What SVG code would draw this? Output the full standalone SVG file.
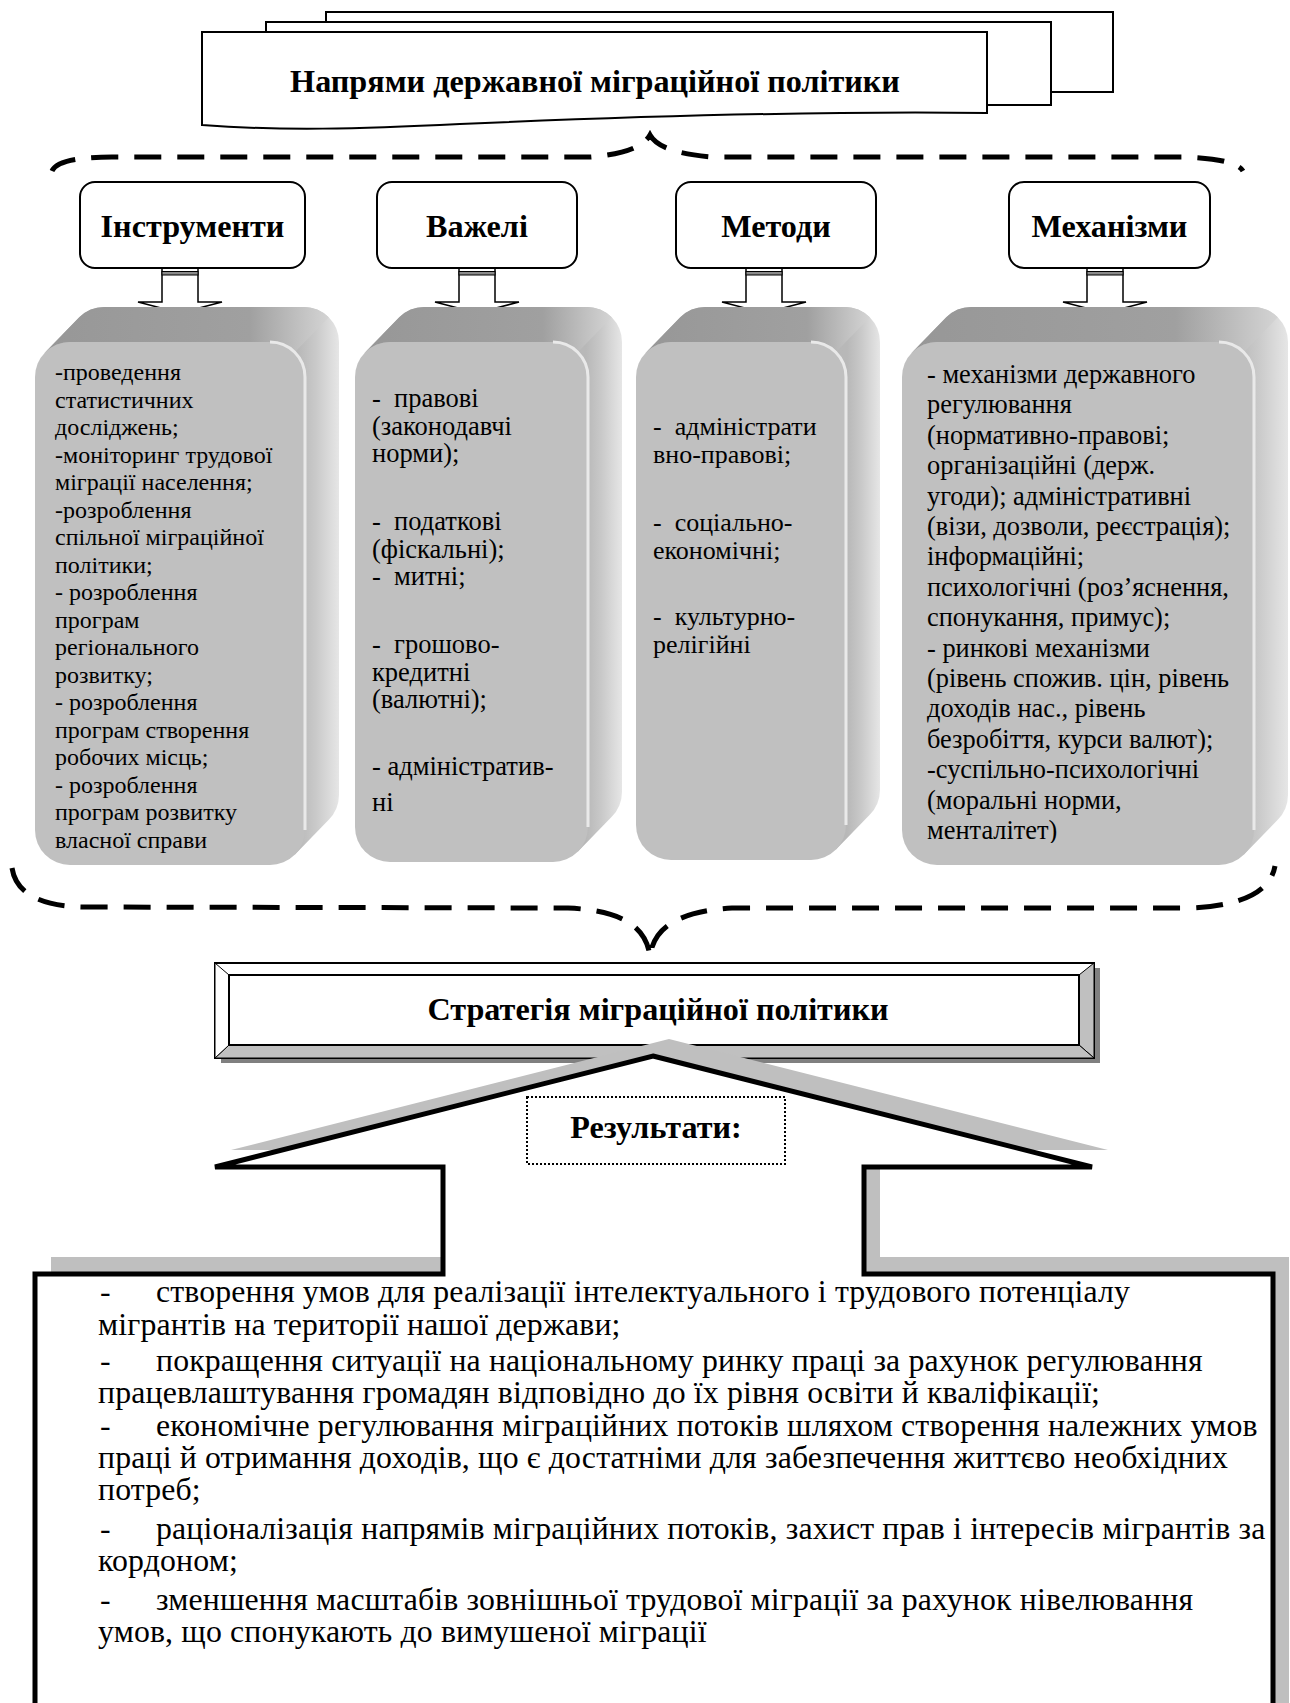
<svg xmlns="http://www.w3.org/2000/svg" width="1290" height="1703" viewBox="0 0 1290 1703">
  <defs>
    <linearGradient id="topFace" x1="0" y1="0" x2="1" y2="0">
      <stop offset="0" stop-color="#979797"/>
      <stop offset="0.72" stop-color="#a0a0a0"/>
      <stop offset="1" stop-color="#d4d4d4"/>
    </linearGradient>
    <linearGradient id="sideFace" x1="0" y1="0" x2="1" y2="0">
      <stop offset="0" stop-color="#b4b4b4"/>
      <stop offset="0.86" stop-color="#b8b8b8"/>
      <stop offset="0.92" stop-color="#c9c9c9"/>
      <stop offset="1" stop-color="#e6e6e6"/>
    </linearGradient>
    <clipPath id="clipMech">
      <rect x="900" y="340" width="360" height="503"/>
    </clipPath>
  </defs>
  <style>
    .bold { font-family: "Liberation Serif", "Times New Roman", serif; font-weight: bold; font-size: 32.2px; text-anchor: middle; fill: #000; }
    .txt { font-family: "Liberation Serif", "Times New Roman", serif; fill: #000; white-space: pre; }
    .sheet { fill: #fff; stroke: #000; stroke-width: 2; }
    .brace { fill: none; stroke: #000; stroke-width: 5; stroke-dasharray: 27 16; }
    .hdr { fill: #fff; stroke: #000; stroke-width: 2; }
    .side { fill: url(#sideFace); }
    .top { fill: url(#topFace); }
    .front { fill: #c0c0c0; }
    .edge { fill: none; stroke: #e9e9e9; stroke-width: 3; }
    .blk { fill: #fff; stroke: #000; stroke-width: 1.5; stroke-linejoin: miter; }
    .band { fill: #8a8a8a; stroke: #000; stroke-width: 1; }
  </style>

  <!-- stacked document header -->
  <g id="directions">
    <rect class="sheet" x="326" y="12" width="787" height="80"/>
    <rect class="sheet" x="266" y="22" width="785" height="83"/>
    <path class="sheet" d="M202 32 H987 V113 C820 111 620 117 460 124 C360 129 280 131 202 125 Z"/>
    <text class="bold" x="595" y="92">Напрями державної міграційної політики</text>
  </g>

  <g id="connectors">
    <!-- upper brace -->
    <path class="brace" d="M52 171 Q58 157 112 157 L590 157 Q640 153 650 135 Q660 153 712 157 L1185 157 Q1236 159 1243 171"/>
    <!-- lower brace -->
    <path class="brace" d="M12 868 Q18 906 84 907 L568 908 C612 910 646 921 650 957 C653 927 680 911 732 908 L1190 908 Q1268 905 1275 866"/>
    <!-- block arrows from headers to boxes -->
    <g>
      <path class="blk" d="M162 268 V302 H138 L180 313 L222 302 H198 V268 Z"/>
      <rect class="band" x="162" y="271.5" width="36" height="3.5"/>
    </g>
    <g>
      <path class="blk" d="M459 268 V302 H435 L477 313 L519 302 H495 V268 Z"/>
      <rect class="band" x="459" y="271.5" width="36" height="3.5"/>
    </g>
    <g>
      <path class="blk" d="M746 268 V302 H722 L764 313 L806 302 H782 V268 Z"/>
      <rect class="band" x="746" y="271.5" width="36" height="3.5"/>
    </g>
    <g>
      <path class="blk" d="M1087 268 V302 H1063 L1105 313 L1147 302 H1123 V268 Z"/>
      <rect class="band" x="1087" y="271.5" width="36" height="3.5"/>
    </g>
  </g>

  <!-- header labels -->
  <g id="hdr-instruments">
    <rect class="hdr" x="80" y="182" width="225" height="86" rx="15"/>
    <text class="bold" x="192.5" y="237">Інструменти</text>
  </g>
  <g id="hdr-levers">
    <rect class="hdr" x="377" y="182" width="200" height="86" rx="15"/>
    <text class="bold" x="477" y="237">Важелі</text>
  </g>
  <g id="hdr-methods">
    <rect class="hdr" x="676" y="182" width="200" height="86" rx="15"/>
    <text class="bold" x="776" y="237">Методи</text>
  </g>
  <g id="hdr-mechanisms">
    <rect class="hdr" x="1009" y="182" width="201" height="86" rx="15"/>
    <text class="bold" x="1109.5" y="237">Механізми</text>
  </g>

  <!-- extruded content boxes -->
  <g id="box-instruments">
    <path class="side" d="M104 307 H304 A35 35 0 0 1 339 342 V795 A35 35 0 0 1 304 830 H104 A35 35 0 0 1 69 795 V342 A35 35 0 0 1 104 307 Z M45.25 352.25 L79.25 317.25 L328.75 819.75 L294.75 854.75 Z"/>
    <path class="top" d="M45.25 352.25 L79.25 317.25 A35 35 0 0 1 104 307 L304 307 A35 35 0 0 1 328.75 317.25 L294.75 352.25 A35 35 0 0 0 270 342 L70 342 A35 35 0 0 0 45.25 352.25 Z"/>
    <rect class="front" x="35" y="342" width="270" height="523" rx="35"/>
    <path class="edge" d="M270 342 A35 35 0 0 1 305 377 V830"/>
    <text class="txt" font-size="24">
      <tspan x="55" y="380">-проведення</tspan>
      <tspan x="55" y="407.5">статистичних</tspan>
      <tspan x="55" y="435">досліджень;</tspan>
      <tspan x="55" y="462.5">-моніторинг трудової</tspan>
      <tspan x="55" y="490">міграції населення;</tspan>
      <tspan x="55" y="517.5">-розроблення</tspan>
      <tspan x="55" y="545">спільної міграційної</tspan>
      <tspan x="55" y="572.5">політики;</tspan>
      <tspan x="55" y="600">- розроблення</tspan>
      <tspan x="55" y="627.5">програм</tspan>
      <tspan x="55" y="655">регіонального</tspan>
      <tspan x="55" y="682.5">розвитку;</tspan>
      <tspan x="55" y="710">- розроблення</tspan>
      <tspan x="55" y="737.5">програм створення</tspan>
      <tspan x="55" y="765">робочих місць;</tspan>
      <tspan x="55" y="792.5">- розроблення</tspan>
      <tspan x="55" y="820">програм розвитку</tspan>
      <tspan x="55" y="847.5">власної справи</tspan>
    </text>
  </g>

  <g id="box-levers">
    <path class="side" d="M424 307 H587 A35 35 0 0 1 622 342 V792 A35 35 0 0 1 587 827 H424 A35 35 0 0 1 389 792 V342 A35 35 0 0 1 424 307 Z M365.25 352.25 L399.25 317.25 L611.75 816.75 L577.75 851.75 Z"/>
    <path class="top" d="M365.25 352.25 L399.25 317.25 A35 35 0 0 1 424 307 L587 307 A35 35 0 0 1 611.75 317.25 L577.75 352.25 A35 35 0 0 0 553 342 L390 342 A35 35 0 0 0 365.25 352.25 Z"/>
    <rect class="front" x="355" y="342" width="233" height="520" rx="35"/>
    <path class="edge" d="M553 342 A35 35 0 0 1 588 377 V827"/>
    <text class="txt" font-size="26.5">
      <tspan x="372" y="407">-  правові</tspan>
      <tspan x="372" y="434.5">(законодавчі</tspan>
      <tspan x="372" y="462">норми);</tspan>
      <tspan x="372" y="530">-  податкові</tspan>
      <tspan x="372" y="557.5">(фіскальні);</tspan>
      <tspan x="372" y="585">-  митні;</tspan>
      <tspan x="372" y="653">-  грошово-</tspan>
      <tspan x="372" y="680.5">кредитні</tspan>
      <tspan x="372" y="708">(валютні);</tspan>
      <tspan x="372" y="775">- адміністратив-</tspan>
      <tspan x="372" y="811">ні</tspan>
    </text>
  </g>

  <g id="box-methods">
    <path class="side" d="M705 307 H845 A35 35 0 0 1 880 342 V790 A35 35 0 0 1 845 825 H705 A35 35 0 0 1 670 790 V342 A35 35 0 0 1 705 307 Z M646.25 352.25 L680.25 317.25 L869.75 814.75 L835.75 849.75 Z"/>
    <path class="top" d="M646.25 352.25 L680.25 317.25 A35 35 0 0 1 705 307 L845 307 A35 35 0 0 1 869.75 317.25 L835.75 352.25 A35 35 0 0 0 811 342 L671 342 A35 35 0 0 0 646.25 352.25 Z"/>
    <rect class="front" x="636" y="342" width="210" height="518" rx="35"/>
    <path class="edge" d="M811 342 A35 35 0 0 1 846 377 V825"/>
    <text class="txt" font-size="26">
      <tspan x="653" y="435">-  адміністрати</tspan>
      <tspan x="653" y="462.5">вно-правові;</tspan>
      <tspan x="653" y="531">-  соціально-</tspan>
      <tspan x="653" y="558.5">економічні;</tspan>
      <tspan x="653" y="625">-  культурно-</tspan>
      <tspan x="653" y="652.5">релігійні</tspan>
    </text>
  </g>

  <g id="box-mechanisms">
    <path class="side" d="M971 307 H1253 A35 35 0 0 1 1288 342 V795 A35 35 0 0 1 1253 830 H971 A35 35 0 0 1 936 795 V342 A35 35 0 0 1 971 307 Z M912.25 352.25 L946.25 317.25 L1277.75 819.75 L1243.75 854.75 Z"/>
    <path class="top" d="M912.25 352.25 L946.25 317.25 A35 35 0 0 1 971 307 L1253 307 A35 35 0 0 1 1277.75 317.25 L1243.75 352.25 A35 35 0 0 0 1219 342 L937 342 A35 35 0 0 0 912.25 352.25 Z"/>
    <rect class="front" x="902" y="342" width="352" height="523" rx="35"/>
    <path class="edge" d="M1219 342 A35 35 0 0 1 1254 377 V830"/>
    <text class="txt" font-size="26.4" clip-path="url(#clipMech)">
      <tspan x="927" y="383">- механізми державного</tspan>
      <tspan x="927" y="413.4">регулювання</tspan>
      <tspan x="927" y="443.8">(нормативно-правові;</tspan>
      <tspan x="927" y="474.2">організаційні (держ.</tspan>
      <tspan x="927" y="504.6">угоди); адміністративні</tspan>
      <tspan x="927" y="535">(візи, дозволи, реєстрація);</tspan>
      <tspan x="927" y="565.4">інформаційні;</tspan>
      <tspan x="927" y="595.8">психологічні (роз’яснення,</tspan>
      <tspan x="927" y="626.2">спонукання, примус);</tspan>
      <tspan x="927" y="656.6">- ринкові механізми</tspan>
      <tspan x="927" y="687">(рівень спожив. цін, рівень</tspan>
      <tspan x="927" y="717.4">доходів нас., рівень</tspan>
      <tspan x="927" y="747.8">безробіття, курси валют);</tspan>
      <tspan x="927" y="778.2">-суспільно-психологічні</tspan>
      <tspan x="927" y="808.6">(моральні норми,</tspan>
      <tspan x="927" y="839">менталітет)</tspan>
    </text>
  </g>

  <!-- strategy bevel box -->
  <g id="strategy">
    <rect x="221" y="968" width="879" height="95" fill="#808080"/>
    <rect x="215" y="963" width="879" height="95" fill="#fff" stroke="#000" stroke-width="2"/>
    <polygon points="1094,963 1094,1058 1079,1045 1079,975" fill="#c0c0c0" stroke="#000" stroke-width="1"/>
    <polygon points="215,1058 1094,1058 1079,1045 229,1045" fill="#c0c0c0" stroke="#000" stroke-width="1"/>
    <polygon points="215,963 229,975 229,1045 215,1058" fill="#fff" stroke="#000" stroke-width="1"/>
    <rect x="229" y="975" width="850" height="70" fill="#fff" stroke="#000" stroke-width="2"/>
    <text class="bold" x="658" y="1020" font-size="31.6px">Стратегія міграційної політики</text>
  </g>

  <!-- results arrow with the list box -->
  <g id="results">
    <path transform="translate(16 -17)" fill="#bfbfbf" d="M653 1056 L1092 1167 L864 1167 L864 1274 L1273 1274 L1273 1730 L35 1730 L35 1274 L443 1274 L443 1167 L215 1167 Z"/>
    <path fill="#fff" stroke="#000" stroke-width="5" d="M653 1056 L1092 1167 L864 1167 L864 1274 L1273 1274 L1273 1730 L35 1730 L35 1274 L443 1274 L443 1167 L215 1167 Z"/>
    <rect x="527" y="1097" width="258" height="67" fill="#fff" stroke="#000" stroke-width="2" stroke-dasharray="2 2"/>
    <text class="bold" x="656" y="1138" font-size="31.8px">Результати:</text>
    <text class="txt" font-size="31.8" letter-spacing="0.15">
      <tspan x="100" y="1302">-</tspan><tspan x="156" y="1302">створення умов для реалізації інтелектуального і трудового потенціалу</tspan>
      <tspan x="98" y="1335">мігрантів на території нашої держави;</tspan>
      <tspan x="100" y="1371">-</tspan><tspan x="156" y="1371">покращення ситуації на національному ринку праці за рахунок регулювання</tspan>
      <tspan x="98" y="1403">працевлаштування громадян відповідно до їх рівня освіти й кваліфікації;</tspan>
      <tspan x="100" y="1436">-</tspan><tspan x="156" y="1436">економічне регулювання міграційних потоків шляхом створення належних умов</tspan>
      <tspan x="98" y="1468">праці й отримання доходів, що є достатніми для забезпечення життєво необхідних</tspan>
      <tspan x="98" y="1500">потреб;</tspan>
      <tspan x="100" y="1539">-</tspan><tspan x="156" y="1539">раціоналізація напрямів міграційних потоків, захист прав і інтересів мігрантів за</tspan>
      <tspan x="98" y="1571">кордоном;</tspan>
      <tspan x="100" y="1610">-</tspan><tspan x="156" y="1610">зменшення масштабів зовнішньої трудової міграції за рахунок нівелювання</tspan>
      <tspan x="98" y="1642">умов, що спонукають до вимушеної міграції</tspan>
    </text>
  </g>
</svg>
